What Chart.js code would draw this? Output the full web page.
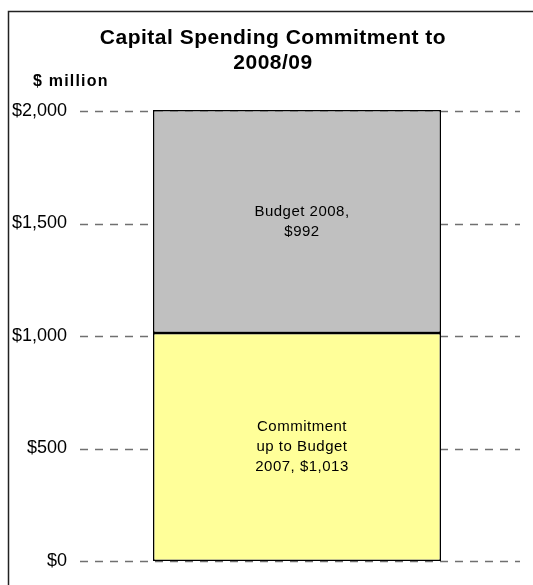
<!DOCTYPE html>
<html>
<head>
<meta charset="utf-8">
<script src="https://cdn.jsdelivr.net/npm/chart.js@4.4.1/dist/chart.umd.min.js"></script>
<style>
html,body{margin:0;padding:0;background:#fff;}
#wrap{position:relative;width:533px;height:585px;}
</style>
</head>
<body>
<div id="wrap"><canvas id="c" width="533" height="585"></canvas></div>
<script>
const categories = [''];
const seriesNames = ['Commitment up to Budget 2007', 'Budget 2008'];
const commitmentValues = [1013];
const budgetValues = [992];
const labelLines = [
  ['Commitment', 'up to Budget', '2007, $1,013'],
  ['Budget 2008,', '$992']
];
const tickValues = [0, 500, 1000, 1500, 2000];
const titleLines = ['Capital Spending Commitment to', '2008/09'];
const unitLabel = '$ million';

const FONT = "'Liberation Sans', Arial, sans-serif";

const framePlugin = {
  id: 'frame',
  beforeDraw(chart) {
    const ctx = chart.ctx;
    ctx.save();
    ctx.fillStyle = '#fff';
    ctx.fillRect(0, 0, chart.width, chart.height);
    ctx.strokeStyle = '#222';
    ctx.lineWidth = 1.5;
    ctx.beginPath();
    ctx.moveTo(8.5, chart.height + 2);
    ctx.lineTo(8.5, 11.5);
    ctx.lineTo(chart.width + 2, 11.5);
    ctx.stroke();
    // title
    ctx.fillStyle = '#000';
    ctx.textAlign = 'center';
    ctx.textBaseline = 'middle';
    ctx.font = 'bold 21px ' + FONT;
    ctx.letterSpacing = '0.5px';
    ctx.fillText(titleLines[0], 273, 38);
    ctx.fillText(titleLines[1], 273, 63);
    ctx.textAlign = 'left';
    ctx.font = 'bold 16px ' + FONT;
    ctx.letterSpacing = '1.2px';
    ctx.fillText(unitLabel, 33, 82);
    ctx.letterSpacing = '0px';
    ctx.restore();
  },
  beforeDatasetsDraw(chart) {
    const ctx = chart.ctx;
    const y = chart.scales.y;
    ctx.save();
    ctx.strokeStyle = '#707070';
    ctx.lineWidth = 1.5;
    ctx.setLineDash([8, 7]);
    tickValues.forEach(v => {
      const py = Math.round(y.getPixelForValue(v)) + 0.5;
      ctx.beginPath();
      ctx.moveTo(80, py);
      ctx.lineTo(520, py);
      ctx.stroke();
    });
    ctx.restore();
  },
  afterDatasetsDraw(chart) {
    const ctx = chart.ctx;
    ctx.save();
    ctx.fillStyle = '#000';
    ctx.textAlign = 'center';
    ctx.textBaseline = 'middle';
    ctx.font = '15px ' + FONT;
    ctx.letterSpacing = '0.5px';
    const yScale = chart.scales.y;
    chart.data.datasets.forEach((ds, i) => {
      const el = chart.getDatasetMeta(i).data[0];
      const top = Math.max(el.y, yScale.top);
      const cy = (top + el.base) / 2;
      const lines = labelLines[i];
      const lh = 20;
      lines.forEach((t, k) => {
        ctx.fillText(t, el.x + 5, cy + (k - (lines.length - 1) / 2) * lh);
      });
    });
    ctx.letterSpacing = '0px';
    ctx.restore();
  }
};

new Chart(document.getElementById('c'), {
  type: 'bar',
  data: {
    labels: categories,
    datasets: [
      {
        label: seriesNames[0],
        data: commitmentValues,
        backgroundColor: '#FFFF99',
        borderColor: '#000',
        borderWidth: 1.5,
        borderSkipped: false,
        clip: 4
      },
      {
        label: seriesNames[1],
        data: budgetValues,
        backgroundColor: '#C0C0C0',
        borderColor: '#000',
        borderWidth: 1.5,
        borderSkipped: false,
        clip: 4
      }
    ]
  },
  options: {
    responsive: false,
    animation: false,
    devicePixelRatio: 1,
    layout: { padding: { left: 0, right: 19, top: 111, bottom: 24 } },
    plugins: {
      legend: { display: false },
      title: { display: false },
      tooltip: { enabled: false }
    },
    datasets: {
      bar: { categoryPercentage: 1, barPercentage: 288 / 434 }
    },
    scales: {
      x: {
        stacked: true,
        display: false
      },
      y: {
        stacked: true,
        min: 0,
        max: 2000,
        afterFit(scale) { scale.width = 80; },
        afterBuildTicks(scale) { scale.ticks = tickValues.map(v => ({ value: v })); },
        border: { display: false },
        grid: { display: false, drawTicks: false },
        ticks: {
          padding: 13,
          color: '#000',
          font: { family: FONT, size: 18 },
          callback: v => '$' + Number(v).toLocaleString('en-US')
        }
      }
    }
  },
  plugins: [framePlugin]
});
</script>
</body>
</html>
